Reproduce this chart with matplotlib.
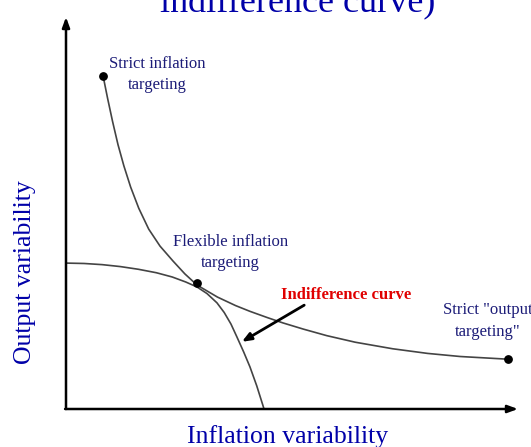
import matplotlib
matplotlib.use("Agg")
import matplotlib.pyplot as plt

# values (axis units 0..100)
frontier_x = [8.2, 9.2, 10.3, 11.5, 12.8, 14.3, 16.1, 18.3, 20.8, 23.7, 26.3, 29.0,
              33.5, 37.5, 40.7, 44.5, 48.0, 52.5, 57.7, 64.0, 72.3, 80.0, 87.2, 97.8]
frontier_y = [86.3, 80.5, 74.5, 68.5, 63.0, 57.5, 52.0, 46.6, 42.2, 38.3, 35.0, 32.1,
              29.0, 26.8, 25.3, 23.7, 22.3, 20.7, 19.0, 17.3, 15.6, 14.4, 13.6, 12.9]

indiff_x = [0.0, 4.0, 8.0, 12.0, 16.0, 20.0, 23.5, 26.5, 29.0, 31.2, 33.4, 35.0,
            36.5, 37.8, 39.3, 40.7, 42.2, 43.6, 43.8]
indiff_y = [37.8, 37.7, 37.4, 36.9, 36.2, 35.3, 34.2, 32.9, 31.6, 29.9, 27.5, 25.0,
            22.0, 18.7, 14.8, 10.9, 6.0, 0.8, 0.0]

dots_x = [8.2, 29.0, 97.8]
dots_y = [86.3, 32.6, 12.9]

serif = "Liberation Serif"
navy = "#1c1c78"
blue = "#0000a8"

fig = plt.figure(figsize=(5.31, 4.47), dpi=100)
ax = fig.add_axes([66 / 531, 38 / 447, 452 / 531, 386 / 447])
ax.set_xlim(0, 100)
ax.set_ylim(0, 100)
ax.axis("off")

# axes with arrow heads
ax.annotate("", xy=(0, 1.0155), xytext=(0, 0), xycoords="axes fraction",
            arrowprops=dict(arrowstyle="-|>,head_length=0.6,head_width=0.22", color="black",
                            lw=1.8, shrinkA=0, shrinkB=0), annotation_clip=False)
ax.annotate("", xy=(1.0, 0), xytext=(-0.002, 0), xycoords="axes fraction",
            arrowprops=dict(arrowstyle="-|>,head_length=0.6,head_width=0.22", color="black",
                            lw=1.8, shrinkA=0, shrinkB=0), annotation_clip=False)

ax.plot(frontier_x, frontier_y, color="#444444", lw=1.2, solid_joinstyle="round")
ax.plot(indiff_x, indiff_y, color="#444444", lw=1.2, solid_joinstyle="round")
ax.scatter(dots_x, dots_y, s=28, color="black", zorder=5)

ax.annotate("", xy=(38.9, 17.4), xytext=(52.7, 26.9),
            arrowprops=dict(arrowstyle="-|>,head_length=0.55,head_width=0.22", color="black",
                            lw=2.0, shrinkA=0, shrinkB=0))

ax.text(20.1, 86.6, "Strict inflation\ntargeting", ha="center", va="center",
        family=serif, fontsize=12, color=navy, linespacing=1.45)
ax.text(36.3, 40.6, "Flexible inflation\ntargeting", ha="center", va="center",
        family=serif, fontsize=12, color=navy, linespacing=1.45)
ax.text(61.9, 29.5, "Indifference curve", ha="center", va="center",
        family=serif, fontsize=12, fontweight="bold", color="#e00000")
ax.text(83.4, 25.6, 'Strict "output', ha="left", va="center",
        family=serif, fontsize=12, color=navy, clip_on=False)
ax.text(93.3, 19.9, 'targeting"', ha="center", va="center",
        family=serif, fontsize=12, color=navy, clip_on=False)

fig.text(25 / 531, 1 - 272 / 447, "Output variability", rotation=90, ha="center", va="center",
         family=serif, fontsize=18.5, color=blue)
fig.text(288 / 531, 1 - 437 / 447, "Inflation variability", ha="center", va="center",
         family=serif, fontsize=18.5, color=blue)
fig.text(298 / 531, 1 - 12 / 447, "indifference curve)", ha="center", va="baseline",
         family=serif, fontsize=26, color=blue)

fig.savefig("out.png", dpi=100)
